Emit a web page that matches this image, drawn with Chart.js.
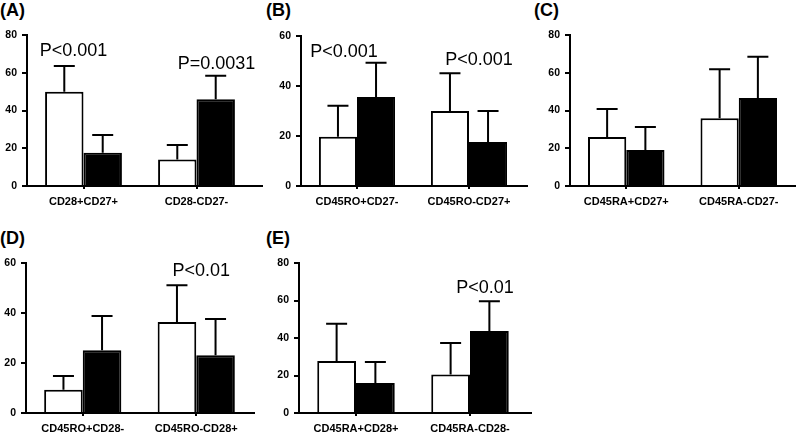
<!DOCTYPE html>
<html>
<head>
<meta charset="utf-8">
<script src="https://cdn.jsdelivr.net/npm/chart.js@4"></script>
<style>
  body { margin: 0; background: #fff; width: 798px; height: 434px; position: relative; overflow: hidden;
         font-family: "Liberation Sans", Arial, sans-serif; }
  .panel-label { position: absolute; font-weight: bold; font-size: 18px; line-height: 18px; color: #000; }
  canvas { position: absolute; }
</style>
</head>
<body>
<script>
// --- DATA ---
const categoriesA = ['CD28+CD27+', 'CD28-CD27-'];
const whiteA = [50, 14];
const whiteSdA = [13.6, 7.7];
const blackA = [17.6, 46];
const blackSdA = [9.4, 12.4];
const pTextA = ['P<0.001', 'P=0.0031'];

const categoriesB = ['CD45RO+CD27-', 'CD45RO-CD27+'];
const whiteB = [19.7, 30];
const whiteSdB = [12.4, 15.1];
const blackB = [35.6, 17.6];
const blackSdB = [13.7, 12.4];
const pTextB = ['P<0.001', 'P<0.001'];

const categoriesC = ['CD45RA+CD27+', 'CD45RA-CD27-'];
const whiteC = [26, 35.9];
const whiteSdC = [14.8, 25.9];
const blackC = [19.1, 46.6];
const blackSdC = [12.2, 21.9];
const pTextC = [null, null];

const categoriesD = ['CD45RO+CD28-', 'CD45RO-CD28+'];
const whiteD = [9.3, 36.4];
const whiteSdD = [5.5, 14.7];
const blackD = [25.1, 23.1];
const blackSdD = [13.7, 14.5];
const pTextD = [null, 'P<0.01'];

const categoriesE = ['CD45RA+CD28+', 'CD45RA-CD28-'];
const whiteE = [27.7, 20.6];
const whiteSdE = [19.9, 16.7];
const blackE = [16, 43.7];
const blackSdE = [11.2, 15.9];
const pTextE = [null, 'P<0.01'];

const yMaxes = [80, 60, 80, 60, 80];
const yStep = 20;
const panelLetters = ['(A)', '(B)', '(C)', '(D)', '(E)'];

// --- LAYOUT (pixel boxes for each panel) ---
const layouts = [
  { left: 0,   top: 0,   w: 265, h: 210, yw: 27, pt: 35, xh: 24, pr: 12, axisEnd: 263, pY: [68.9, 62],   pDx: [-10, 20], lx: 0,   ly: 1 },
  { left: 270, top: 0,   w: 260, h: 210, yw: 31, pt: 36, xh: 24, pr: 5,  axisEnd: 528, pY: [51.6, 48.4], pDx: [-13, 10], lx: 266, ly: 1 },
  { left: 535, top: 0,   w: 263, h: 210, yw: 35, pt: 35, xh: 24, pr: 3,  axisEnd: 793, pY: [0, 0],       pDx: [0, 0],    lx: 534, ly: 1 },
  { left: 0,   top: 210, w: 265, h: 224, yw: 26, pt: 53, xh: 21, pr: 12, axisEnd: 255, pY: [0, 54.8],    pDx: [0, 5],    lx: 0,   ly: 229 },
  { left: 265, top: 210, w: 270, h: 224, yw: 34, pt: 53, xh: 21, pr: 8,  axisEnd: 532, pY: [0, 64.2],    pDx: [0, 15],   lx: 266, ly: 229 }
];

const panelData = [
  [categoriesA, whiteA, whiteSdA, blackA, blackSdA, pTextA],
  [categoriesB, whiteB, whiteSdB, blackB, blackSdB, pTextB],
  [categoriesC, whiteC, whiteSdC, blackC, blackSdC, pTextC],
  [categoriesD, whiteD, whiteSdD, blackD, blackSdD, pTextD],
  [categoriesE, whiteE, whiteSdE, blackE, blackSdE, pTextE]
];

Chart.defaults.font.family = '"Liberation Sans", Arial, sans-serif';
Chart.defaults.color = '#000';

// upward-only SD bars with a cap
const errorBarPlugin = {
  id: 'errorBars',
  afterDatasetsDraw(chart) {
    const ctx = chart.ctx;
    const y = chart.scales.y;
    chart.data.datasets.forEach((ds, i) => {
      chart.getDatasetMeta(i).data.forEach((bar, j) => {
        const top = y.getPixelForValue(ds.data[j] + ds.sd[j]);
        ctx.save();
        ctx.strokeStyle = '#000';
        ctx.lineWidth = 2;
        ctx.beginPath();
        ctx.moveTo(bar.x, bar.y);
        ctx.lineTo(bar.x, top);
        ctx.moveTo(bar.x - 10.5, top);
        ctx.lineTo(bar.x + 10.5, top);
        ctx.stroke();
        ctx.restore();
      });
    });
  }
};

// P-value notes and the bit of x axis that runs past the last category
const notesPlugin = {
  id: 'pNotes',
  afterDraw(chart, args, opts) {
    const ctx = chart.ctx;
    const x = chart.scales.x, y = chart.scales.y;
    ctx.save();
    ctx.font = '18px "Liberation Sans", Arial, sans-serif';
    ctx.fillStyle = '#000';
    ctx.textAlign = 'center';
    ctx.textBaseline = 'alphabetic';
    opts.texts.forEach((t, i) => {
      if (!t) return;
      ctx.fillText(t, x.getPixelForValue(i) + opts.dx[i], y.getPixelForValue(opts.ys[i]));
    });
    if (opts.axisEnd > chart.chartArea.right) {
      ctx.strokeStyle = '#000';
      ctx.lineWidth = 2;
      ctx.beginPath();
      ctx.moveTo(chart.chartArea.right, chart.chartArea.bottom);
      ctx.lineTo(opts.axisEnd, chart.chartArea.bottom);
      ctx.stroke();
    }
    ctx.restore();
  }
};

function renderPanel(idx) {
  const L = layouts[idx];
  const [cats, white, whiteSd, black, blackSd, pTexts] = panelData[idx];

  const label = document.createElement('div');
  label.className = 'panel-label';
  label.textContent = panelLetters[idx];
  label.style.left = L.lx + 'px';
  label.style.top = L.ly + 'px';
  document.body.appendChild(label);

  const canvas = document.createElement('canvas');
  canvas.width = L.w;
  canvas.height = L.h;
  canvas.style.left = L.left + 'px';
  canvas.style.top = L.top + 'px';
  canvas.style.width = L.w + 'px';
  canvas.style.height = L.h + 'px';
  document.body.appendChild(canvas);

  new Chart(canvas.getContext('2d'), {
    type: 'bar',
    data: {
      labels: cats,
      datasets: [
        { data: white, sd: whiteSd, backgroundColor: '#fff', borderColor: '#000', borderWidth: 2 },
        { data: black, sd: blackSd, backgroundColor: '#000', borderColor: '#000', borderWidth: 2 }
      ]
    },
    options: {
      responsive: false,
      animation: false,
      devicePixelRatio: 1,
      categoryPercentage: 0.68,
      barPercentage: 1,
      layout: { padding: { top: L.pt, right: L.pr, left: 0, bottom: 0 } },
      plugins: {
        legend: { display: false },
        tooltip: { enabled: false },
        pNotes: { texts: pTexts, ys: L.pY, dx: L.pDx, axisEnd: L.axisEnd - L.left }
      },
      scales: {
        x: {
          afterFit: s => { s.height = L.xh; },
          ticks: { font: { size: 11, weight: 'bold' }, color: '#000', padding: 6, maxRotation: 0, autoSkip: false },
          grid: { offset: false, drawOnChartArea: false, tickLength: 3, color: '#000', lineWidth: 2 },
          border: { color: '#000', width: 2 }
        },
        y: {
          min: 0,
          max: yMaxes[idx],
          afterFit: s => { s.width = L.yw; },
          ticks: { stepSize: yStep, font: { size: 10.5, weight: 'bold' }, color: '#000', padding: 5 },
          grid: { drawOnChartArea: false, tickLength: 5, color: '#000', lineWidth: 2 },
          border: { color: '#000', width: 2 }
        }
      }
    },
    plugins: [errorBarPlugin, notesPlugin]
  });
}

document.addEventListener('DOMContentLoaded', () => {
  for (let i = 0; i < layouts.length; i++) renderPanel(i);
});
</script>
</body>
</html>
